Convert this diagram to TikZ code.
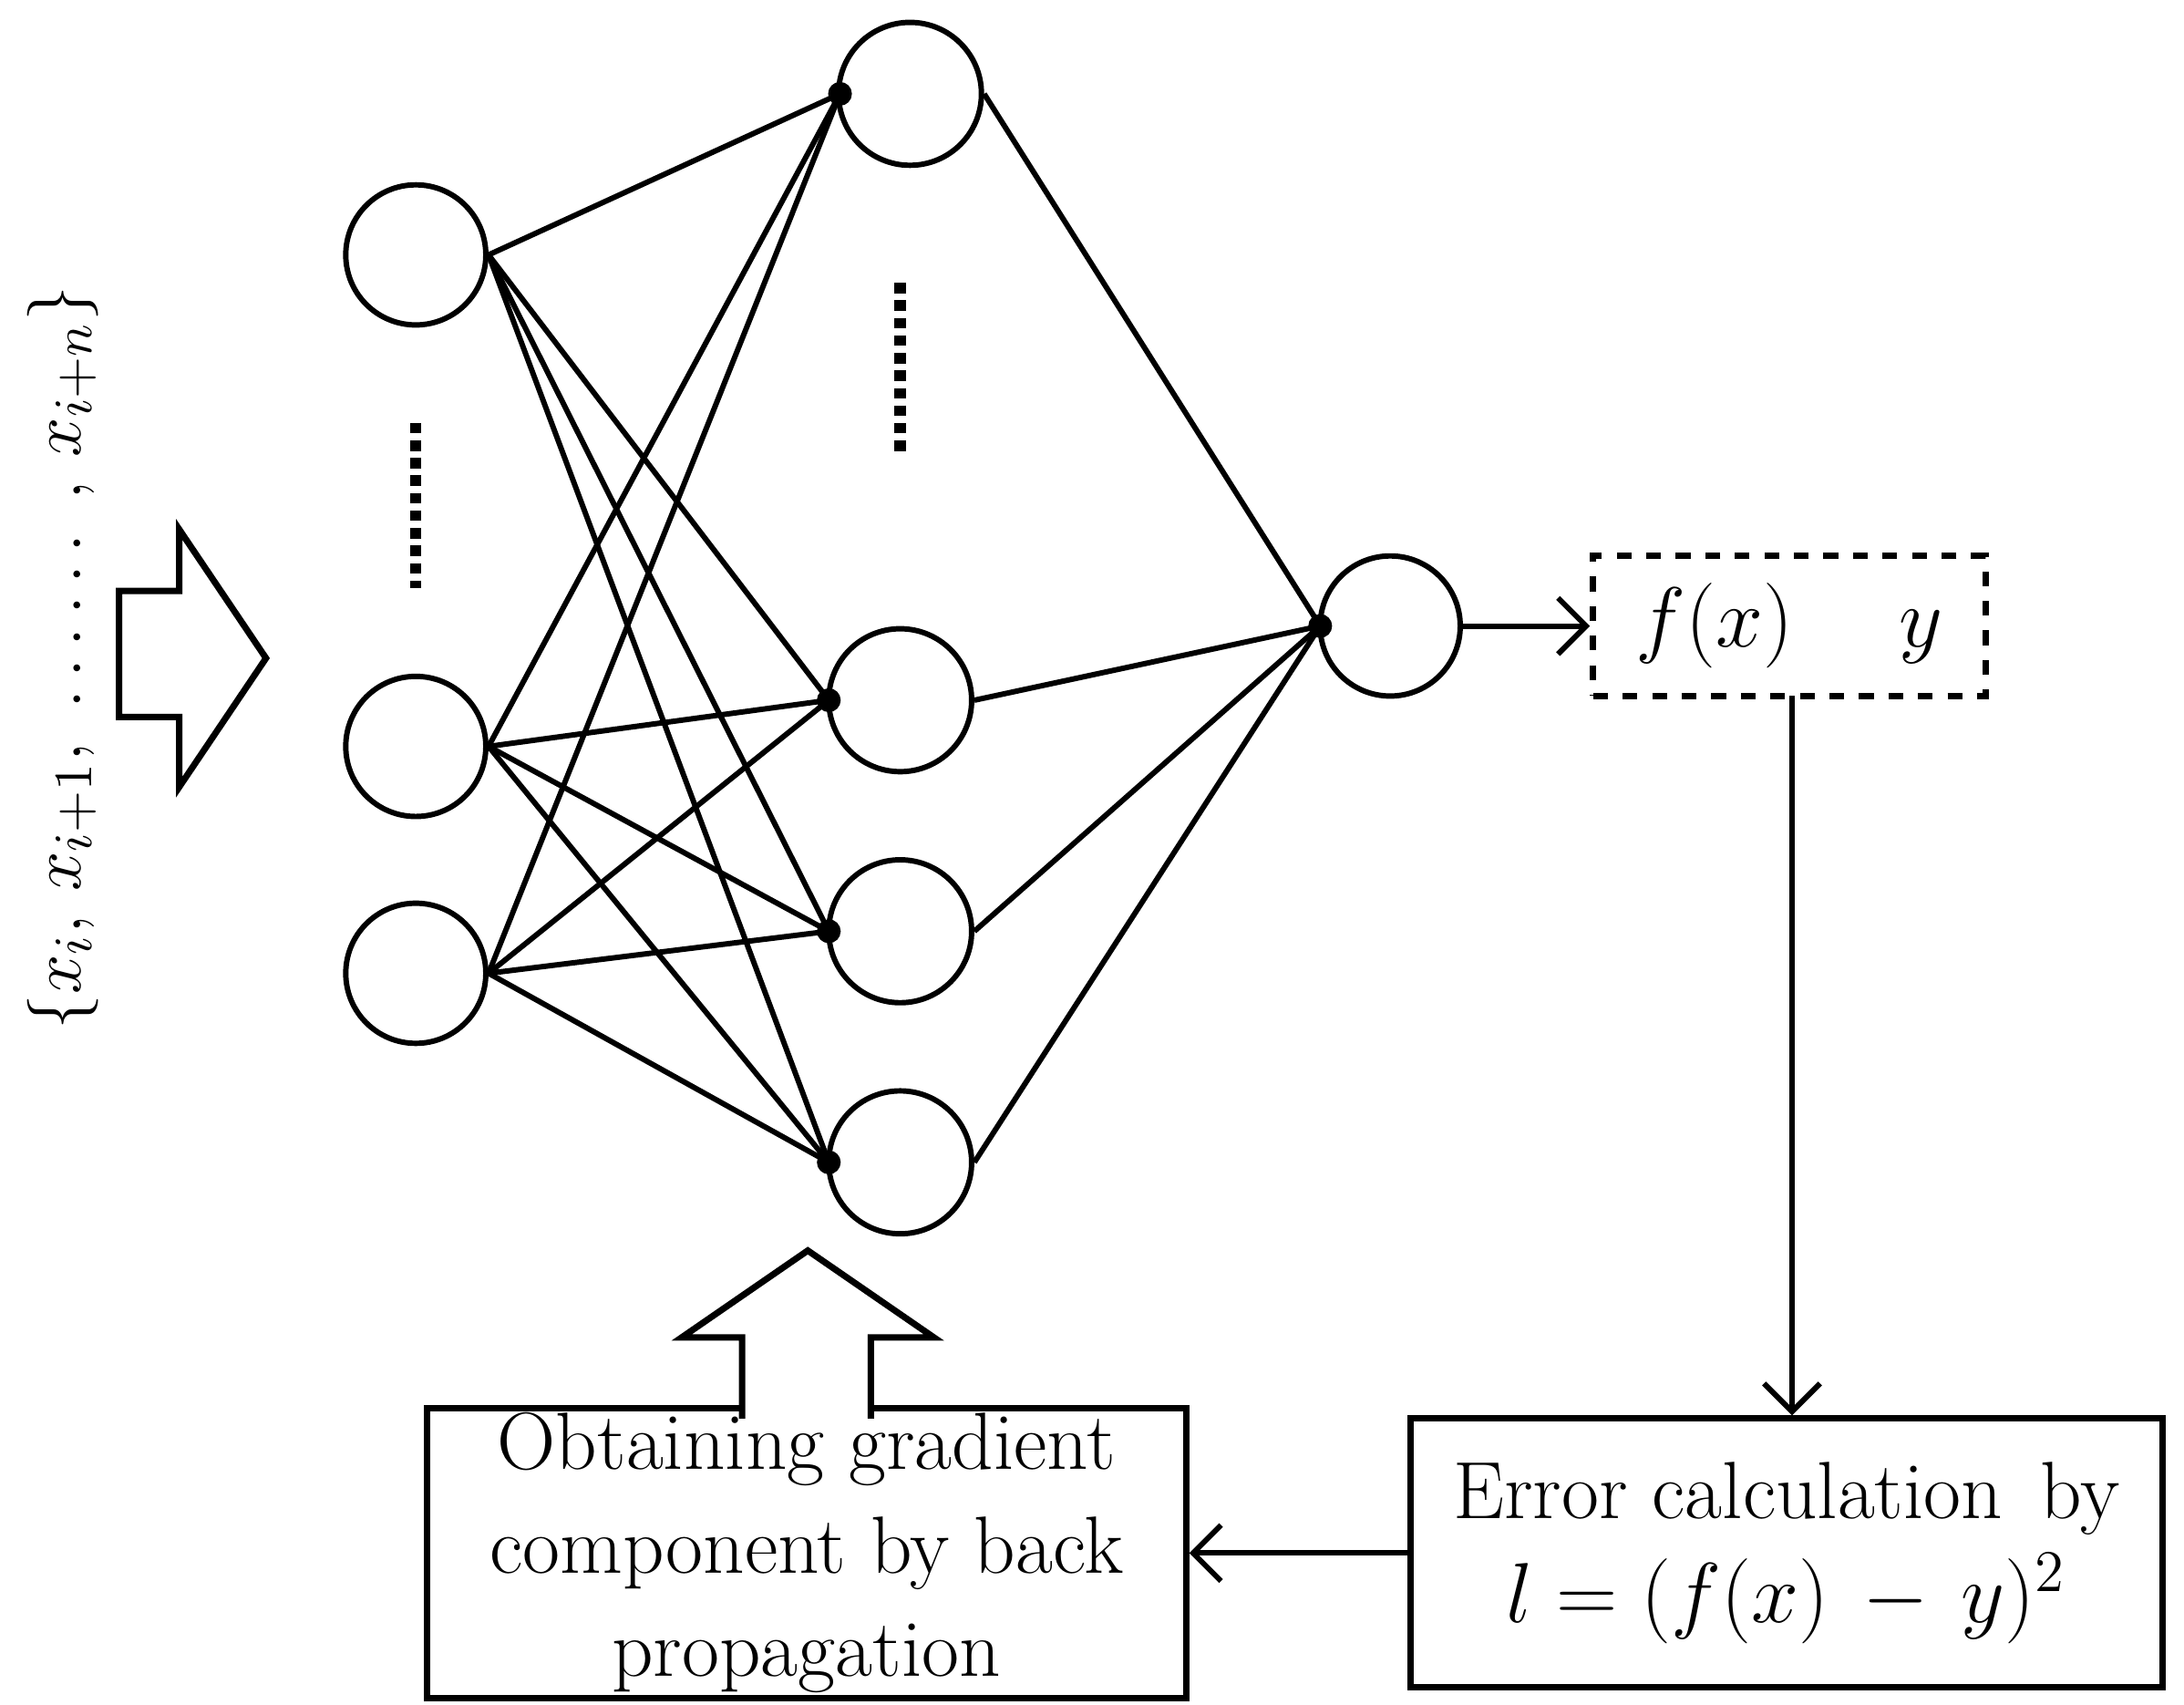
\documentclass[tikz,border=0pt]{standalone}
\usepackage{amsmath}
\usepackage{tikz}
\usetikzlibrary{arrows.meta}
\begin{document}
\begin{tikzpicture}[
    x=0.01cm, y=-0.01cm,
    neuron/.style={circle, draw, line width=1.1pt, minimum size=1cm, inner sep=0pt},
    hidden/.style={neuron, minimum size=1.02cm},
    joint/.style={circle, fill, minimum size=0.17cm, inner sep=0pt},
    link/.style={line width=1.1pt},
    arrow/.style={-{Straight Barb[length=0.2cm, width=0.4cm]}, line width=1.1pt},
    box/.style={rectangle, draw, line width=1.3pt, align=center, inner sep=1pt, font=\fontsize{16.5}{21}\selectfont},
    vdots/.style={line width=0.08cm, dash pattern=on 0.075cm off 0.05cm}
]
\useasboundingbox (0,0) rectangle (1560,1217);

% input layer
\node[neuron] (in1) at (297,182) {};
\node[neuron] (in2) at (297,533) {};
\node[neuron] (in3) at (297,695) {};
\draw[vdots] (297,302) -- (297,420);

% hidden layer
\node[hidden] (h1) at (650,67) {};
\node[hidden] (h2) at (643,500) {};
\node[hidden] (h3) at (643,665) {};
\node[hidden] (h4) at (643,830) {};
\draw[vdots] (643,202) -- (643,322);
\node[joint] (d1) at (600,67) {};
\node[joint] (d2) at (592,500) {};
\node[joint] (d3) at (592,665) {};
\node[joint] (d4) at (592,830) {};

% output layer
\node[neuron] (out) at (993,447) {};
\node[joint] (dout) at (943,447) {};

% weights
\foreach \i in {1,2,3}
  \foreach \j in {1,2,3,4}
    \draw[link] (in\i.east) -- (d\j.center);
\draw[link] (h1.east) -- (dout.center);
\foreach \j in {2,3,4}
  \draw[link] (h\j.east) -- (dout.center);

% loss part
\node[box, dashed, minimum width=2.8cm, minimum height=1cm] (pred) at (1278,447) {$f(x)\quad\ y$};
\node[box, minimum width=5.37cm, minimum height=1.92cm] (err) at (1276,1109) {Error calculation\, by\\$l=(f(x)\,-\,y)^2$};
\node[box, minimum width=5.42cm, minimum height=1.92cm] (grad) at (576,1109) {Obtaining gradient\\component by back\\propagation};
\coordinate (predout) at (1280,497);
\draw[arrow] (out.east) -- (pred.west);
\draw[arrow] (predout) -- (predout |- err.north);
\draw[arrow] (err.west) -- (grad.east);

% hollow arrows
\draw[line width=1.3pt, fill=white] (530,1013) -- (530,955) -- (487,955) -- (577,893) -- (667,955) -- (622,955) -- (622,1013);
\draw[line width=1.3pt] (128,562) -- (128,512) -- (85,512) -- (85,422) -- (128,422) -- (128,378) -- (190,470) -- cycle;

% input label
\node[rotate=90, font=\fontsize{15}{18}\selectfont] (xs) at (45,470) {$\{x_i,\, x_{i+1},\ \ldots\ldots\ ,\, x_{i+n}\}$};
\end{tikzpicture}
\end{document}
